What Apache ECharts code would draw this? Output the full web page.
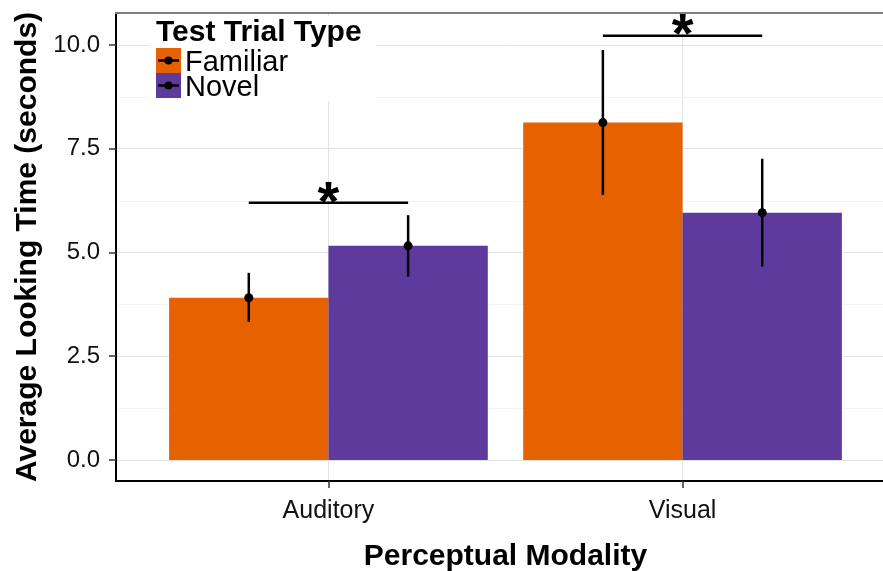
<!DOCTYPE html>
<html>
<head>
<meta charset="utf-8">
<script src="https://cdn.jsdelivr.net/npm/echarts@6/dist/echarts.min.js"></script>
<style>html,body{margin:0;padding:0;background:#fff;overflow:hidden;width:883px;height:571px}#c{width:910px;height:571px}</style>
</head>
<body>
<div id="c"></div>
<script>
const categories = ['Auditory', 'Visual'];
const trialTypes = ['Familiar', 'Novel'];
const familiarMean = [3.91, 8.13];
const familiarLow = [3.33, 6.39];
const familiarHigh = [4.51, 9.88];
const novelMean = [5.16, 5.96];
const novelLow = [4.42, 4.66];
const novelHigh = [5.90, 7.26];
const yTicks = [0, 2.5, 5, 7.5, 10];
const yMinorTicks = [1.25, 3.75, 6.25, 8.75];
const xTicks = [1, 2];
const sigLineY = [6.20, 10.22];
const sigStarY = [6.50, 10.53];
const sigLabels = ['*', '*'];

const FONT = '"Liberation Sans", Arial, Helvetica, sans-serif';
const colors = ['#E66100', '#5D3A9B'];
const HALF = 0.225;
const X_MIN = 0.4, X_MAX = 2.6, Y_MIN = -0.506, Y_MAX = 10.771;

const chart = echarts.init(document.getElementById('c'), null, {renderer: 'canvas'});

const barData = [
  categories.map((c, i) => [i + 1 - HALF, familiarMean[i]]),
  categories.map((c, i) => [i + 1 + HALF, novelMean[i]])
];
const errData = [
  categories.map((c, i) => [i + 1 - HALF, familiarMean[i], familiarLow[i], familiarHigh[i]]),
  categories.map((c, i) => [i + 1 + HALF, novelMean[i], novelLow[i], novelHigh[i]])
];
const sigData = categories.map((c, i) => [i + 1 - HALF, i + 1 + HALF, sigLineY[i], sigStarY[i], i]);
const minorData = yMinorTicks.map(v => [X_MIN, v]);

function barRender(color) {
  return function (params, api) {
    const x = api.value(0), v = api.value(1);
    const p1 = api.coord([x - HALF, v]);
    const p0 = api.coord([x + HALF, 0]);
    return {type: 'rect', shape: {x: p1[0], y: p1[1], width: p0[0] - p1[0], height: p0[1] - p1[1]},
      style: {fill: color}};
  };
}
function errRender(params, api) {
  const x = api.value(0);
  const m = api.coord([x, api.value(1)]);
  const lo = api.coord([x, api.value(2)]);
  const hi = api.coord([x, api.value(3)]);
  return {type: 'group', children: [
    {type: 'line', shape: {x1: lo[0], y1: lo[1], x2: hi[0], y2: hi[1]}, style: {stroke: '#000', lineWidth: 2.5}},
    {type: 'circle', shape: {cx: m[0], cy: m[1], r: 4.5}, style: {fill: '#000'}}
  ]};
}
function sigRender(params, api) {
  const a = api.coord([api.value(0), api.value(2)]);
  const b = api.coord([api.value(1), api.value(2)]);
  const s = api.coord([(api.value(0) + api.value(1)) / 2, api.value(3)]);
  return {type: 'group', children: [
    {type: 'line', shape: {x1: a[0], y1: a[1], x2: b[0], y2: b[1]}, style: {stroke: '#000', lineWidth: 2.5}},
    {type: 'text', x: s[0], y: s[1] + 14, style: {text: sigLabels[api.value(4)], fill: '#000',
      font: 'bold 56px ' + FONT, align: 'center', verticalAlign: 'middle'}}
  ]};
}
function minorRender(params, api) {
  const a = api.coord([X_MIN, api.value(1)]);
  const b = api.coord([X_MAX, api.value(1)]);
  const y = Math.round(a[1]) + 0.5;
  return {type: 'line', shape: {x1: a[0] + 1, y1: y, x2: b[0], y2: y}, style: {stroke: '#f3f3f3', lineWidth: 1}};
}

const legendX = 156, legendY = 48, keyH = 25;
const legendElements = [
  {type: 'rect', z: 100, shape: {x: 150, y: 16, width: 226, height: 85}, style: {fill: '#fff'}},
  {type: 'text', z: 101, x: 156, y: 33, style: {text: 'Test Trial Type', font: 'bold 30px ' + FONT, fill: '#000', verticalAlign: 'middle'}}
];
trialTypes.forEach((t, i) => {
  const y0 = legendY + i * keyH;
  legendElements.push(
    {type: 'rect', z: 101, shape: {x: legendX, y: y0, width: 25, height: keyH}, style: {fill: colors[i]}},
    {type: 'line', z: 102, shape: {x1: legendX + 2, y1: y0 + keyH / 2, x2: legendX + 23, y2: y0 + keyH / 2}, style: {stroke: '#000', lineWidth: 2.5}},
    {type: 'circle', z: 103, shape: {cx: legendX + 12.5, cy: y0 + keyH / 2, r: 4}, style: {fill: '#000'}},
    {type: 'text', z: 101, x: legendX + 29, y: y0 + keyH / 2 + 2, style: {text: t, font: '29px ' + FONT, fill: '#000', verticalAlign: 'middle'}}
  );
});

const option = {
  backgroundColor: '#fff',
  animation: false,
  grid: {left: 116, top: 13, width: 779, height: 468, outerBoundsMode: 'none', containLabel: false, show: false},
  xAxis: [{
    type: 'value', min: X_MIN, max: X_MAX,
    name: 'Perceptual Modality', nameLocation: 'middle', nameGap: 61,
    nameTextStyle: {fontFamily: FONT, fontWeight: 'bold', fontSize: 30, color: '#000'},
    axisLine: {show: true, onZero: false, lineStyle: {color: '#000', width: 2}},
    axisTick: {show: true, length: 7, customValues: xTicks, lineStyle: {color: '#333', width: 1.5}},
    axisLabel: {customValues: xTicks, margin: 18, fontFamily: FONT, fontSize: 25, color: '#111',
      formatter: v => categories[Math.round(v) - 1]},
    splitLine: {show: true, lineStyle: {color: '#e3e3e3', width: 1}}
  }, {
    type: 'value', min: X_MIN, max: X_MAX, position: 'top',
    axisLine: {show: true, onZero: false, lineStyle: {color: '#808080', width: 2}},
    axisTick: {show: false}, axisLabel: {show: false}, splitLine: {show: false}
  }],
  yAxis: [{
    type: 'value', min: Y_MIN, max: Y_MAX,
    name: 'Average Looking Time (seconds)', nameLocation: 'middle', nameGap: 72,
    nameTextStyle: {fontFamily: FONT, fontWeight: 'bold', fontSize: 30, color: '#000'},
    axisLine: {show: true, onZero: false, lineStyle: {color: '#000', width: 2}},
    axisTick: {show: true, length: 7, customValues: yTicks, lineStyle: {color: '#333', width: 1.5}},
    axisLabel: {customValues: yTicks, margin: 16, fontFamily: FONT, fontSize: 24, color: '#111',
      formatter: v => v.toFixed(1)},
    splitLine: {show: true, lineStyle: {color: '#e3e3e3', width: 1}}
  }],
  series: [
    {type: 'custom', renderItem: minorRender, data: minorData, encode: {x: 0, y: 1}, z: 1, silent: true},
    {type: 'custom', name: trialTypes[0], renderItem: barRender(colors[0]), data: barData[0], encode: {x: 0, y: 1}, z: 2},
    {type: 'custom', name: trialTypes[1], renderItem: barRender(colors[1]), data: barData[1], encode: {x: 0, y: 1}, z: 2},
    {type: 'custom', renderItem: errRender, data: errData[0], encode: {x: 0, y: [1, 2, 3]}, z: 3},
    {type: 'custom', renderItem: errRender, data: errData[1], encode: {x: 0, y: [1, 2, 3]}, z: 3},
    {type: 'custom', renderItem: sigRender, data: sigData, encode: {x: [0, 1], y: [2, 3]}, z: 3}
  ],
  graphic: {elements: legendElements}
};
chart.setOption(option);
</script>
</body>
</html>
